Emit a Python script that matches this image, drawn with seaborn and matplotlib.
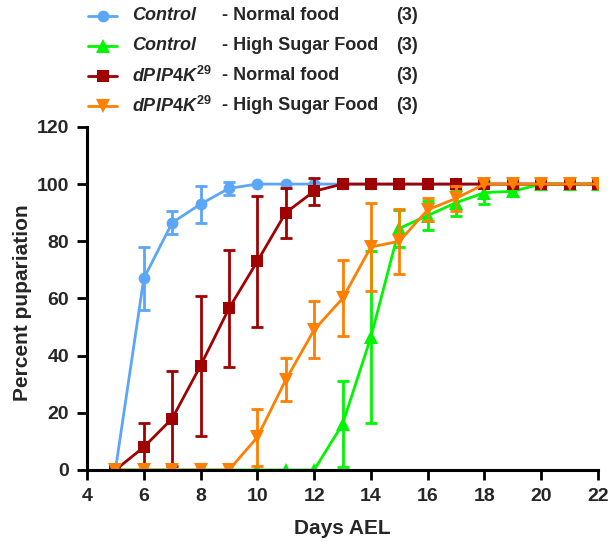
import matplotlib
matplotlib.use("Agg")
import matplotlib.pyplot as plt
from matplotlib.lines import Line2D
import numpy as np
import pandas as pd
import seaborn as sns

DAYS = list(range(5, 23))

CONTROL_NF = [0, 67, 86.5, 93, 98.5, 100, 100, 100, 100, 100, 100, 100, 100, 100, 100, 100, 100, 100]
CONTROL_NF_ERR = [0, 11, 4, 6.5, 2.3, 0, 0, 0, 0, 0, 0, 0, 0, 0, 0, 0, 0, 0]

CONTROL_HSF = [0, 0, 0, 0, 0, 0, 0, 0, 16, 46.5, 84.5, 89, 93.5, 97, 97.5, 100, 100, 100]
CONTROL_HSF_ERR = [0, 0, 0, 0, 0, 0, 0, 0, 15, 30, 6.5, 5, 4.5, 4, 1.5, 0, 0, 0]

MUTANT_NF = [0, 8, 18, 36.5, 56.5, 73, 90, 97.5, 100, 100, 100, 100, 100, 100, 100, 100, 100, 100]
MUTANT_NF_ERR = [0, 8.3, 16.5, 24.5, 20.5, 23, 8.8, 4.7, 0, 0, 0, 0, 0, 0, 0, 0, 0, 0]

MUTANT_HSF = [0, 0, 0, 0, 0, 11.5, 31.5, 49, 60, 78, 80, 91, 95, 100, 100, 100, 100, 100]
MUTANT_HSF_ERR = [0, 0, 0, 0, 0, 10, 7.5, 10, 13.3, 15.3, 11.3, 4, 4.5, 0, 0, 0, 0, 0]

NAMES = ["Control", "Control", r"$dPIP4K^{\mathit{29}}$", r"$dPIP4K^{\mathit{29}}$"]
DIETS = ["- Normal food", "- High Sugar Food", "- Normal food", "- High Sugar Food"]
N_LABEL = "(3)"

SERIES = [
    (CONTROL_NF, CONTROL_NF_ERR, "#5ba6f6", "o", 8.5),
    (CONTROL_HSF, CONTROL_HSF_ERR, "#00f500", "^", 9.5),
    (MUTANT_NF, MUTANT_NF_ERR, "#a00000", "s", 8.5),
    (MUTANT_HSF, MUTANT_HSF_ERR, "#ff8000", "v", 9.5),
]

sns.set_theme(style="ticks")
plt.rcParams["font.family"] = ["Liberation Sans", "DejaVu Sans"]
plt.rcParams["font.weight"] = "bold"
plt.rcParams["mathtext.fontset"] = "custom"
plt.rcParams["mathtext.it"] = "Liberation Sans:italic:bold"
plt.rcParams["mathtext.rm"] = "Liberation Sans:bold"

fig = plt.figure(figsize=(6.09, 5.47), dpi=100)
ax = fig.add_axes([0.1429, 0.1408, 0.982 - 0.1429, 0.768 - 0.1408])

for i, (vals, errs, color, marker, ms) in enumerate(SERIES):
    df = pd.DataFrame({"day": DAYS, "value": vals, "err": errs})
    z = 3 + i
    sns.lineplot(data=df, x="day", y="value", ax=ax, color=color, marker=marker,
                 markersize=ms, markeredgewidth=0, linewidth=2.0, zorder=z)
    e = df[df["err"] > 0]
    ax.errorbar(e["day"], e["value"], yerr=e["err"], fmt="none", ecolor=color,
                elinewidth=2.0, capsize=4, capthick=2.0, zorder=z)

ax.set_xlim(4, 22)
ax.set_ylim(0, 120)
ax.set_xticks(range(4, 23, 2))
ax.set_yticks(range(0, 121, 20))
ax.set_xlabel("Days AEL", fontsize=15, fontweight="bold", labelpad=10)
ax.set_ylabel("Percent pupariation", fontsize=15, fontweight="bold")
ax.yaxis.set_label_coords(-0.108, 0.487)
for lab in ax.get_xticklabels() + ax.get_yticklabels():
    lab.set_fontsize(14)
    lab.set_fontweight("bold")
ax.tick_params(axis="both", direction="out", length=7, width=2, color="black", pad=6)
sns.despine(ax=ax)
for side in ["left", "bottom"]:
    ax.spines[side].set_linewidth(2.2)
    ax.spines[side].set_color("black")
ax.spines["bottom"].set_zorder(10)

# legend drawn by hand above the axes
W, H = 609.0, 547.0
rows_y = [16, 46, 76, 106]
for (vals, errs, color, marker, ms), name, diet, y in zip(SERIES, NAMES, DIETS, rows_y):
    fy = 1 - y / H
    fig.add_artist(Line2D([88 / W, 117 / W], [fy, fy], color=color, linewidth=2.0))
    fig.add_artist(Line2D([102.5 / W], [fy], color=color, marker=marker, markersize=ms,
                          markeredgewidth=0, linestyle="none"))
    fig.text(132 / W, fy, name, fontsize=13, fontweight="bold", fontstyle="italic",
             va="center", ha="left")
    fig.text(222 / W, fy, diet, fontsize=13, fontweight="bold", va="center", ha="left")
    fig.text(396 / W, fy, N_LABEL, fontsize=13, fontweight="bold", va="center", ha="left")

fig.savefig("out.png", dpi=100)
